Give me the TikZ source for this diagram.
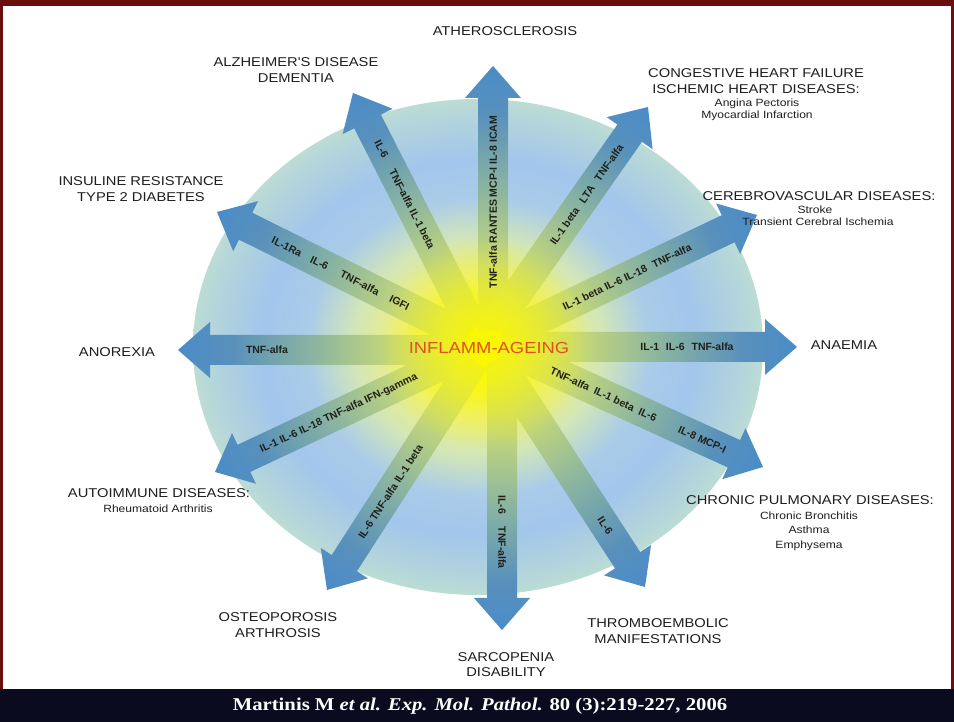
\documentclass[tikz,border=0pt]{standalone}
\usepackage{fontspec}
\setmainfont{Liberation Sans}
\newfontfamily\labfont[FakeStretch=1.15]{Liberation Sans}
\newfontfamily\reffont[FakeStretch=1.15]{Liberation Serif}
\usetikzlibrary{fadings}
\definecolor{framered}{HTML}{6A0E0E}
\definecolor{bandnavy}{HTML}{0B0B1F}
\definecolor{txt}{HTML}{1E1E1E}
\definecolor{raytxt}{HTML}{202018}
\definecolor{inflam}{HTML}{E2501E}
\definecolor{glowc}{HTML}{F8F600}
\definecolor{dA}{HTML}{FFFF00}
\definecolor{dB}{HTML}{FBFB12}
\definecolor{dC}{HTML}{EEF080}
\definecolor{dD}{HTML}{D2E6B8}
\definecolor{dE}{HTML}{AACCE8}
\definecolor{dF}{HTML}{A2C6EC}
\definecolor{dG}{HTML}{B2D4DC}
\definecolor{dH}{HTML}{BCDCD4}
\definecolor{rA}{HTML}{ECEC40}
\definecolor{rB}{HTML}{C6D878}
\definecolor{rC}{HTML}{8AB4A2}
\definecolor{rD}{HTML}{5890BC}
\definecolor{rE}{HTML}{4A8CC8}
\pgfdeclareradialshading{discsh}{\pgfpointorigin}{color(0bp)=(dA); color(3bp)=(dB); color(7bp)=(dC); color(11bp)=(dD); color(15bp)=(dE); color(19bp)=(dF); color(23bp)=(dG); color(25bp)=(dH); color(50bp)=(dH)}
\pgfdeclarehorizontalshading{raysh}{100bp}{color(0bp)=(rA); color(25bp)=(rA); color(38bp)=(rB); color(52bp)=(rC); color(66bp)=(rD); color(75bp)=(rE); color(100bp)=(rE)}
\tikzfading[name=glowfade, inner color=transparent!15, outer color=transparent!100]
\tikzset{
  outl/.style={font=\labfont\fontsize{12.8}{14}\selectfont, text=txt, inner sep=0pt, anchor=base},
  subl/.style={font=\labfont\fontsize{10.5}{12}\selectfont, text=txt, inner sep=0pt, anchor=base},
  raylab/.style={font=\bfseries\fontsize{10.5}{12}\selectfont, text=raytxt, inner sep=0pt},
}
% tip x, tip y (image), angle, length
\newcommand\rayarrow[4]{%
  \begin{scope}[transform canvas={shift={(#1,722-#2)},rotate=#3}]
    \shade[shading=raysh] (-#4,-15) -- (-32,-15) -- (-32,-28) -- (0,0) -- (-32,28) -- (-32,15) -- (-#4,15) -- cycle;
  \end{scope}}
% tip x, tip y, angle, local x, text rotation, name, text
\newcommand\raytext[7]{%
  \begin{scope}[shift={(#1,722-#2)},rotate=#3]
    \node[raylab, transform shape, rotate=#5] (#6) at (#4,0) {#7};
  \end{scope}}
\begin{document}
\begin{tikzpicture}[x=1pt,y=1pt]
\useasboundingbox (0,0) rectangle (954,722);
\fill[framered] (0,0) rectangle (954,722);
\fill[white] (3,33) rectangle (951,716);
\fill[bandnavy] (0,0) rectangle (954,33);
% disc
\shade[shading=discsh] (478,375) ellipse (285 and 248);
% arrows
\rayarrow{493}{66}{90}{265}
\rayarrow{353}{93}{117}{265}
\rayarrow{648}{107}{55}{268}
\rayarrow{217}{212}{153.6}{280}
\rayarrow{757}{215}{25.5}{280}
\rayarrow{178}{350}{180}{290}
\rayarrow{797}{347}{0}{295}
\rayarrow{215}{472}{205.2}{280}
\rayarrow{763}{467}{-24.5}{285}
\rayarrow{327}{590}{237.2}{272}
\rayarrow{502}{630}{-90}{268}
\rayarrow{645}{587}{-57}{272}
% glow
\fill[glowc, path fading=glowfade] (485,379) circle (105);
% arrow texts
\raytext{493}{66}{90}{-136}{0}{tN}{TNF-alfa RANTES MCP-I IL-8 ICAM}
\raytext{353}{93}{117}{-114}{180}{tNNW}{IL-6\hspace{14pt}TNF-alfa IL-1 beta}
\raytext{648}{107}{55}{-107}{0}{tNE}{IL-1 beta\hspace{5pt} LTA\hspace{5pt} TNF-alfa}
\raytext{217}{212}{153.6}{-138}{180}{tNW}{IL-1Ra\hspace{8pt} IL-6\hspace{12pt} TNF-alfa\hspace{10pt} IGFI}
\raytext{757}{215}{25.5}{-144}{0}{tENE}{IL-1 beta IL-6 IL-18\hspace{4pt} TNF-alfa}
\raytext{178}{350}{180}{-89}{180}{tW}{TNF-alfa}
\raytext{797}{347}{0}{-110}{0}{tE}{IL-1\hspace{4pt} IL-6\hspace{4pt} TNF-alfa}
\raytext{215}{472}{205.2}{-137}{180}{tWSW}{IL-1 IL-6 IL-18 TNF-alfa IFN-gamma}
\raytext{763}{467}{-24.5}{-137}{0}{tESE}{TNF-alfa\hspace{3pt} IL-1 beta\hspace{3pt} IL-6\hspace{22pt} IL-8 MCP-I}
\raytext{327}{590}{237.2}{-117}{180}{tSSW}{IL-6 TNF-alfa IL-1 beta}
\raytext{502}{630}{-90}{-98}{0}{tS}{IL-6\hspace{10pt} TNF-alfa}
\raytext{645}{587}{-57}{-73}{0}{tSSE}{IL-6}
% centre
\node[font=\labfont\fontsize{16}{18}\selectfont, text=inflam, inner sep=0pt] (core) at (489,374) {INFLAMM-AGEING};
% outer labels
\node[outl] (athero) at (505,722-35.5) {ATHEROSCLEROSIS};
\node[outl] (alz1) at (296,722-66.5) {ALZHEIMER'S DISEASE};
\node[outl] (alz2) at (296,722-82.5) {DEMENTIA};
\node[outl] (chf1) at (756,722-77.5) {CONGESTIVE HEART FAILURE};
\node[outl] (chf2) at (756,722-93.5) {ISCHEMIC HEART DISEASES:};
\node[subl] (chf3) at (757,722-107) {Angina Pectoris};
\node[subl] (chf4) at (757,722-119) {Myocardial Infarction};
\node[outl] (ins1) at (141,722-185.5) {INSULINE RESISTANCE};
\node[outl] (ins2) at (141,722-201.5) {TYPE 2 DIABETES};
\node[outl] (cer1) at (819,722-200.5) {CEREBROVASCULAR DISEASES:};
\node[subl] (cer2) at (815,722-214) {Stroke};
\node[subl] (cer3) at (818,722-226) {Transient Cerebral Ischemia};
\node[outl] (ano) at (117,722-356.5) {ANOREXIA};
\node[outl] (ana) at (844,722-349.5) {ANAEMIA};
\node[outl] (aut1) at (159,722-497.5) {AUTOIMMUNE DISEASES:};
\node[subl] (aut2) at (158,722-513) {Rheumatoid Arthritis};
\node[outl] (cpd1) at (810,722-504.5) {CHRONIC PULMONARY DISEASES:};
\node[subl] (cpd2) at (809,722-520) {Chronic Bronchitis};
\node[subl] (cpd3) at (809,722-534) {Asthma};
\node[subl] (cpd4) at (809,722-549) {Emphysema};
\node[outl] (ost1) at (278,722-621.5) {OSTEOPOROSIS};
\node[outl] (ost2) at (278,722-637.5) {ARTHROSIS};
\node[outl] (thr1) at (658,722-627.5) {THROMBOEMBOLIC};
\node[outl] (thr2) at (658,722-643.5) {MANIFESTATIONS};
\node[outl] (sar1) at (506,722-661.5) {SARCOPENIA};
\node[outl] (sar2) at (506,722-676.5) {DISABILITY};
% citation
\node[font=\reffont\bfseries\fontsize{18}{20}\selectfont, text=white, inner sep=0pt] (cite) at (480,16) {Martinis M \textit{et al. Exp. Mol. Pathol.} 80 (3):219-227, 2006};
\end{tikzpicture}
\end{document}
